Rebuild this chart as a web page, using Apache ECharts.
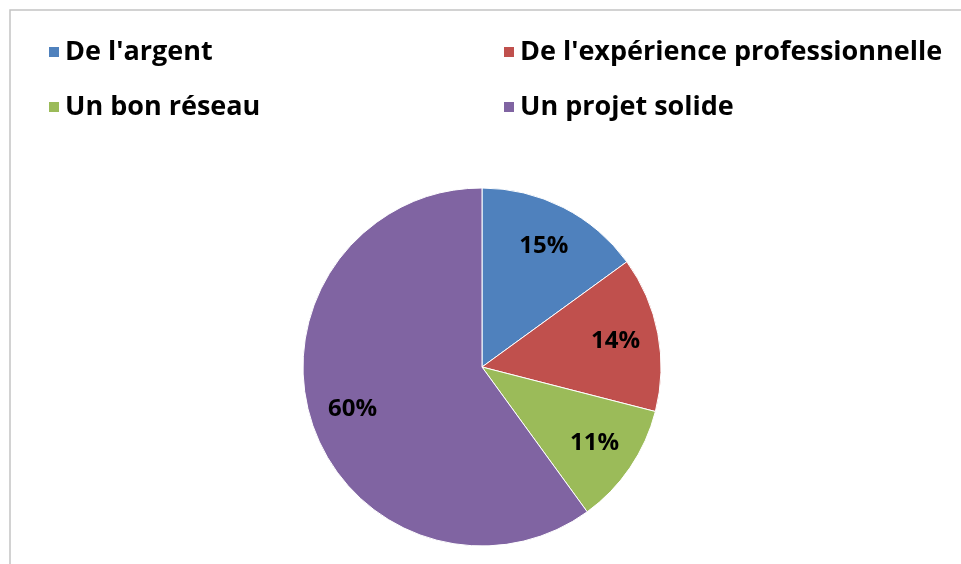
<!DOCTYPE html>
<html>
<head>
<meta charset="utf-8">
<script src="https://cdn.jsdelivr.net/npm/echarts@6/dist/echarts.min.js"></script>
<style>
  html, body { margin: 0; padding: 0; background: #fff; }
  #chart { width: 961px; height: 564px; }
</style>
</head>
<body>
<div id="chart"></div>
<script>
// données
var categories = ["De l'argent", "De l'expérience professionnelle", "Un bon réseau", "Un projet solide"];
var values = [15, 14, 11, 60];
var colors = ['#4F81BD', '#C0504D', '#9BBB59', '#8064A2'];

var pieData = [];
for (var i = 0; i < categories.length; i++) {
    pieData.push({ name: categories[i], value: values[i] });
}

var chart = echarts.init(document.getElementById('chart'));

var legendText = { fontFamily: 'Open Sans', fontWeight: 'bold', fontSize: 27, color: '#000', lineHeight: 28 };

var option = {
    animation: false,
    color: colors,
    graphic: [{
        type: 'rect',
        shape: { x: 10, y: 10, width: 980, height: 600 },
        style: { fill: 'none', stroke: '#c4c4c4', lineWidth: 1.5 },
        silent: true
    }],
    legend: [
        {
            orient: 'vertical', left: 42, top: 33,
            itemWidth: 12, itemHeight: 12, itemGap: 27,
            icon: 'rect',
            data: [categories[0], categories[2]],
            textStyle: legendText
        },
        {
            orient: 'vertical', left: 497, top: 33,
            itemWidth: 12, itemHeight: 12, itemGap: 27,
            icon: 'rect',
            data: [categories[1], categories[3]],
            textStyle: legendText
        }
    ],
    series: [
        {
            name: 'parts',
            type: 'pie',
            center: [482, 367],
            radius: 179,
            startAngle: 90,
            clockwise: true,
            label: { show: false },
            labelLine: { show: false },
            itemStyle: { borderColor: '#fff', borderWidth: 1 },
            emphasis: { disabled: true },
            data: pieData
        },
        {
            // anneau transparent pour placer les étiquettes
            name: 'etiquettes',
            type: 'pie',
            center: [482, 367],
            radius: [87, 179],
            startAngle: 90,
            clockwise: true,
            silent: true,
            itemStyle: { color: 'rgba(0,0,0,0)' },
            label: {
                show: true,
                position: 'inside',
                formatter: '{c}%',
                fontFamily: 'Open Sans',
                fontWeight: 'bold',
                fontSize: 24,
                color: '#000'
            },
            labelLine: { show: false },
            emphasis: { disabled: true },
            data: pieData
        }
    ]
};

chart.setOption(option);
</script>
</body>
</html>
